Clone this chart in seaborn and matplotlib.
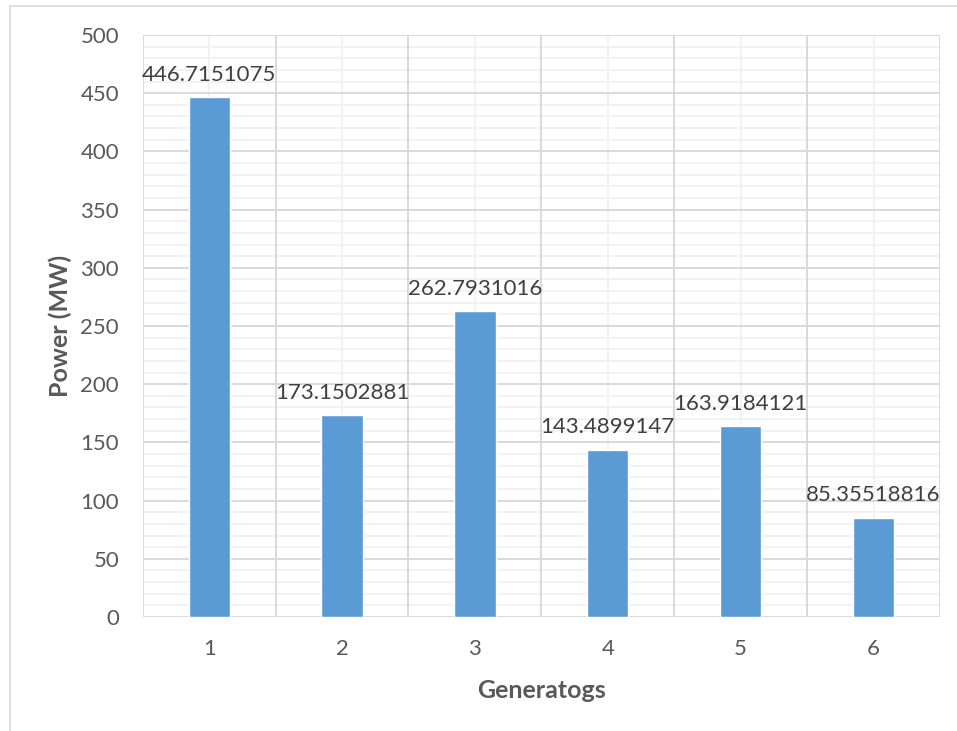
import matplotlib
matplotlib.use("Agg")
import matplotlib.pyplot as plt
from matplotlib.lines import Line2D
from matplotlib.ticker import FixedLocator
import seaborn as sns
import pandas as pd

generators = ["1", "2", "3", "4", "5", "6"]
power_mw = [446.7151075, 173.1502881, 262.7931016, 143.4899147, 163.9184121, 85.35518816]
value_labels = ["446.7151075", "173.1502881", "262.7931016", "143.4899147", "163.9184121", "85.35518816"]
y_ticks = [0, 50, 100, 150, 200, 250, 300, 350, 400, 450, 500]

sns.set_theme(style="white")
plt.rcParams["font.family"] = ["Lato", "DejaVu Sans"]

text_color = "#595959"
major_grid = "#D9D9D9"
minor_grid = "#F2F2F2"
bar_color = "#5B9BD5"

df = pd.DataFrame({"Generator": generators, "Power": power_mw})

fig = plt.figure(figsize=(9.57, 7.31), dpi=100)
ax = fig.add_axes([142.7 / 957, 114 / 731, (940 - 142.7) / 957, (617 - 35) / 731])

sns.barplot(data=df, x="Generator", y="Power", color=bar_color, width=0.31,
            saturation=1, ax=ax, zorder=3)

ax.set_xlim(-0.5, 5.5)
ax.set_ylim(0, 500)

# gridlines: major every 50 / minor every 10, vertical at category edges and centres
ax.yaxis.set_major_locator(FixedLocator(y_ticks))
ax.grid(False)
for y in range(0, 501, 10):
    if y % 50:
        ax.axhline(y, color=minor_grid, lw=1.4, zorder=0)
for i in range(len(generators)):
    ax.axvline(i, color=minor_grid, lw=1.4, zorder=0)
for y in y_ticks:
    ax.axhline(y, color=major_grid, lw=1.4, zorder=1)
for i in range(len(generators) + 1):
    ax.axvline(i - 0.5, color=major_grid, lw=1.4, zorder=1)

for s in ax.spines.values():
    s.set_visible(False)

ax.tick_params(axis="both", which="both", length=0, labelsize=16, colors=text_color)
ax.tick_params(axis="y", pad=17)
ax.tick_params(axis="x", pad=16)

for i, (v, lab) in enumerate(zip(power_mw, value_labels)):
    ax.annotate(lab, (i, v), xytext=(0, 9), textcoords="offset points",
                ha="center", va="bottom", fontsize=16, color="#404040", zorder=4)

ax.set_xlabel("Generatogs", fontsize=18, fontweight="bold", color=text_color, labelpad=14)
ax.set_ylabel("Power (MW)", fontsize=18, fontweight="bold", color=text_color, labelpad=6)

# chart area border (top and left edges)
fig.add_artist(Line2D([10 / 957, 1], [1 - 6 / 731, 1 - 6 / 731], color=major_grid, lw=1.2,
                      transform=fig.transFigure))
fig.add_artist(Line2D([10 / 957, 10 / 957], [0, 1 - 6 / 731], color=major_grid, lw=1.2,
                      transform=fig.transFigure))

fig.savefig("out.png", dpi=100)
